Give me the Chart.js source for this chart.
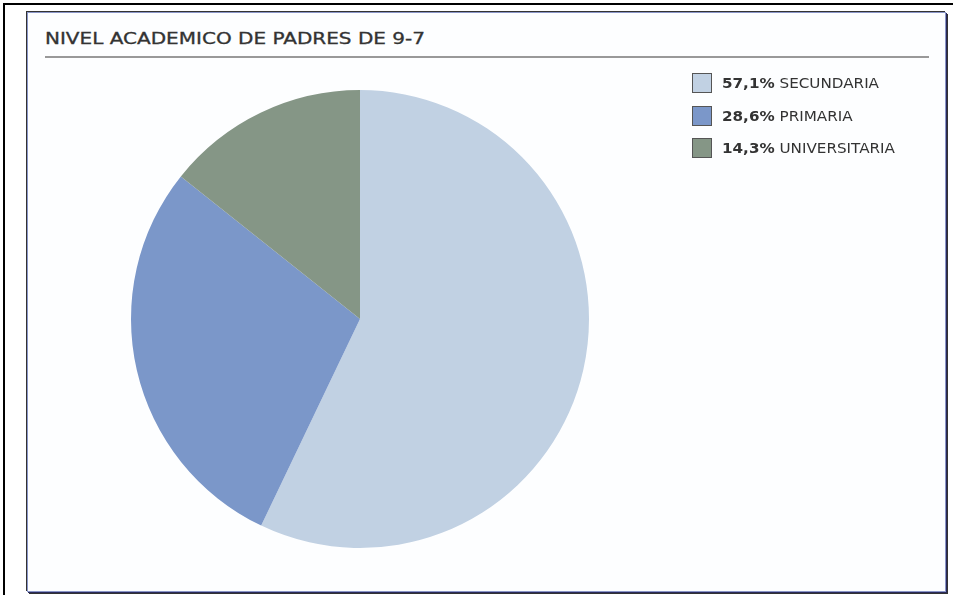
<!DOCTYPE html>
<html>
<head>
<meta charset="utf-8">
<script src="https://cdn.jsdelivr.net/npm/chart.js@4/dist/chart.umd.min.js"></script>
<style>
  html, body { margin:0; padding:0; background:#ffffff; }
  #wrap { position:relative; width:953px; height:595px; overflow:hidden; }
  .outerTop { position:absolute; left:3px; top:3px; width:950px; height:2px; background:#000; }
  .outerLeft { position:absolute; left:3px; top:3px; width:2px; height:592px; background:#000; }
  #panel { position:absolute; left:27px; top:12px; width:917px; height:578px;
           background:#fdfeff; border:1px solid #8a96c8; box-shadow: -1px -1px 0 #333, 1px 1px 0 #2a2a5a, 2px 2px 0 #333; }
  #title { position:absolute; left:45px; top:30px; font-family:"DejaVu Sans", Verdana, sans-serif; font-size:15px;
           color:#333; white-space:nowrap; transform-origin:0 0; -webkit-text-stroke:0.3px #333; }
  #rule { position:absolute; left:45px; top:56px; width:884px; height:2px; background:#999; }
  canvas { position:absolute; left:0; top:0; }
  #legend { position:absolute; left:692px; top:73px; font-family:"DejaVu Sans", Verdana, sans-serif; font-size:14px; color:#333; }
  .row { position:relative; height:32.5px; white-space:nowrap; }
  .sw { position:absolute; left:0; top:0; width:18px; height:18px; border:1px solid #555; }
  .lt { position:absolute; left:30px; top:1px; line-height:18px; transform-origin:0 0; }
  .lt b { font-weight:bold; }
</style>
</head>
<body>
<div id="wrap">
  <div class="outerTop"></div>
  <div class="outerLeft"></div>
  <div id="panel"></div>
  <div id="title"></div>
  <div id="rule"></div>
  <canvas id="c" width="953" height="595"></canvas>
  <div id="legend"></div>
</div>
<script>
const chartTitle = "NIVEL ACADEMICO DE PADRES DE 9-7";
const categories = ["SECUNDARIA", "PRIMARIA", "UNIVERSITARIA"];
const percentages = [57.1, 28.6, 14.3];
const percentLabels = ["57,1%", "28,6%", "14,3%"];
const sliceColors = ["#c1d1e3", "#7b97c9", "#859686"];

const titleEl = document.getElementById('title');
titleEl.textContent = chartTitle;
const tw = titleEl.getBoundingClientRect().width;
titleEl.style.transform = 'scaleX(' + (380 / tw) + ')';

const legend = document.getElementById('legend');
categories.forEach((cat, i) => {
  const row = document.createElement('div'); row.className = 'row';
  const sw = document.createElement('div'); sw.className = 'sw'; sw.style.background = sliceColors[i];
  const lt = document.createElement('div'); lt.className = 'lt';
  const b = document.createElement('b'); b.textContent = percentLabels[i];
  lt.appendChild(b); lt.appendChild(document.createTextNode(' ' + cat));
  row.appendChild(sw); row.appendChild(lt); legend.appendChild(row);
});
const firstW = legend.querySelector('.lt').getBoundingClientRect().width;
const k = 157 / firstW;
legend.querySelectorAll('.lt').forEach(el => el.style.transform = 'scaleX(' + k + ')');

new Chart(document.getElementById('c'), {
  type: 'pie',
  data: {
    labels: categories,
    datasets: [{ data: percentages, backgroundColor: sliceColors, borderWidth: 0 }]
  },
  options: {
    responsive: false,
    animation: false,
    layout: { padding: { left: 131, right: 364, top: 90, bottom: 47 } },
    plugins: { legend: { display: false }, tooltip: { enabled: false } }
  }
});
</script>
</body>
</html>
